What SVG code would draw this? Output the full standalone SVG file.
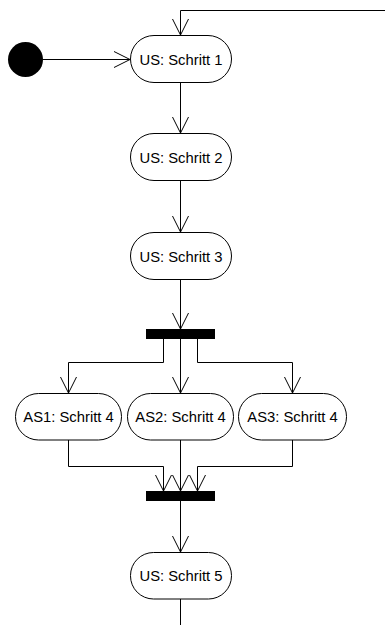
<svg xmlns="http://www.w3.org/2000/svg" width="385" height="625" viewBox="0 0 385 625">
<style>
.node rect{fill:#fff;stroke:#000;stroke-width:1}
.node text{font-family:"Liberation Sans",Arial,sans-serif;font-size:14.8px;fill:#000;text-anchor:middle}
.edge{fill:none;stroke:#000;stroke-width:1}
.bar{fill:#000}
</style>
<defs>
<marker id="open" viewBox="-17 -9 18 18" markerWidth="18" markerHeight="18" refX="0" refY="0" orient="auto" markerUnits="userSpaceOnUse">
<path d="M-16,-8 L0,0 L-16,8" fill="none" stroke="#000" stroke-width="1"/>
</marker>
</defs>
<g id="connectors">
<path class="edge" d="M385,10.5 H180.5 V35" marker-end="url(#open)"/>
<path class="edge" d="M43,59.5 H130" marker-end="url(#open)"/>
<path class="edge" d="M180.5,83 V133" marker-end="url(#open)"/>
<path class="edge" d="M180.5,181 V232" marker-end="url(#open)"/>
<path class="edge" d="M180.5,280 V329" marker-end="url(#open)"/>
<path class="edge" d="M163.5,339 V362.5 H68.5 V393" marker-end="url(#open)"/>
<path class="edge" d="M180.5,339 V393" marker-end="url(#open)"/>
<path class="edge" d="M197.5,339 V362.5 H292.5 V393" marker-end="url(#open)"/>
<path class="edge" d="M68.5,440 V466.5 H163.5 V491" marker-end="url(#open)"/>
<path class="edge" d="M180.5,440 V491" marker-end="url(#open)"/>
<path class="edge" d="M292.5,440 V466.5 H197.5 V491" marker-end="url(#open)"/>
<path class="edge" d="M180.5,501 V552" marker-end="url(#open)"/>
<path class="edge" d="M180.5,599 V625"/>
</g>
<g id="start"><circle cx="25.5" cy="59.5" r="17.5" fill="#000"/></g>
<g id="us1" class="node"><rect x="130.5" y="35.5" width="101" height="47" rx="23.5"/><text x="181" y="64.5">US: Schritt 1</text></g>
<g id="us2" class="node"><rect x="130.5" y="133.5" width="101" height="47" rx="23.5"/><text x="181" y="162.5">US: Schritt 2</text></g>
<g id="us3" class="node"><rect x="130.5" y="232.5" width="101" height="47" rx="23.5"/><text x="181" y="261.5">US: Schritt 3</text></g>
<g id="fork"><rect class="bar" x="146" y="329" width="69" height="10"/></g>
<g id="as1" class="node"><rect x="15.5" y="393.5" width="106" height="46.5" rx="23"/><text x="68.5" y="422">AS1: Schritt 4</text></g>
<g id="as2" class="node"><rect x="127.5" y="393.5" width="106" height="46.5" rx="23"/><text x="180.5" y="422">AS2: Schritt 4</text></g>
<g id="as3" class="node"><rect x="238.5" y="393.5" width="108" height="46.5" rx="23"/><text x="292.5" y="422">AS3: Schritt 4</text></g>
<g id="join"><rect class="bar" x="146" y="491" width="69" height="10"/></g>
<g id="us5" class="node"><rect x="130.5" y="552.5" width="101" height="46.5" rx="23"/><text x="181" y="581">US: Schritt 5</text></g>
</svg>
